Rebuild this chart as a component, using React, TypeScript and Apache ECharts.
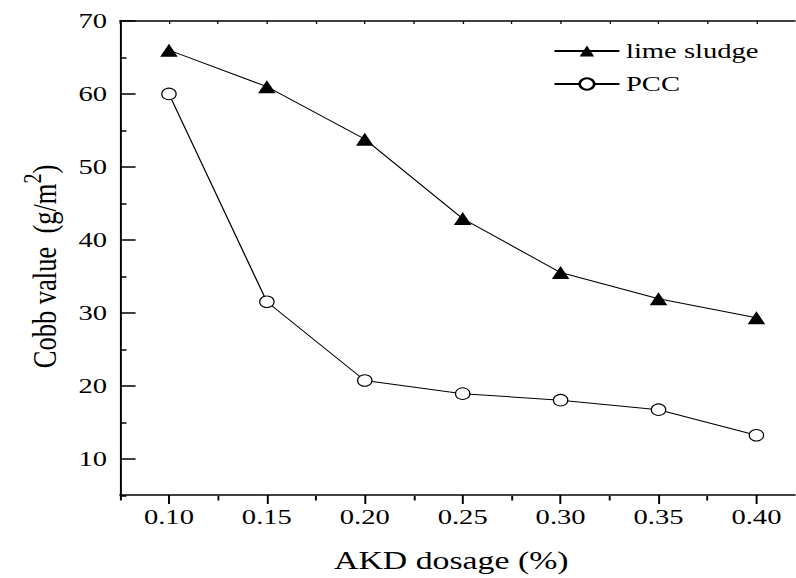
import React, { useEffect, useRef } from "react";
import * as echarts from "echarts";

const X_VALUES = [0.1, 0.15, 0.2, 0.25, 0.3, 0.35, 0.4];
const LIME_SLUDGE = [66.0, 61.0, 53.8, 42.9, 35.5, 31.9, 29.3];
const PCC = [60.0, 31.5, 20.7, 18.9, 18.0, 16.7, 13.2];
const X_TICKS = [0.1, 0.15, 0.2, 0.25, 0.3, 0.35, 0.4];
const X_MINOR = [0.075, 0.125, 0.175, 0.225, 0.275, 0.325, 0.375];
const Y_TICKS = [10, 20, 30, 40, 50, 60, 70];
const Y_MINOR = [5, 15, 25, 35, 45, 55, 65];

const S = 1.3; // horizontal stretch of the reference picture
const W = 796 / S;
const H = 578;
const FONT = "Liberation Serif";

const gridBox = { left: 92.3, right: -1.7, top: 21, bottom: 82 };

export default function App() {
  const ref = useRef<HTMLDivElement>(null);
  useEffect(() => {
    if (!ref.current) return;
    const chart = echarts.init(ref.current, undefined, { renderer: "svg" });
    const lineAx = { show: true, lineStyle: { color: "#000", width: 1.5 } };
    const option: any = {
      animation: false,
      backgroundColor: "#fff",
      textStyle: { fontFamily: FONT },
      grid: [
        { ...gridBox, containLabel: false },
        { ...gridBox, containLabel: false },
      ],
      legend: {
        orient: "vertical",
        left: 420.5,
        top: 35,
        itemWidth: 50,
        itemHeight: 14,
        itemGap: 11,
        textStyle: { fontFamily: FONT, fontSize: 22, color: "#000", lineHeight: 22 },
        data: ["lime sludge", "PCC"],
      },
      xAxis: [
        {
          type: "value",
          gridIndex: 0,
          position: "bottom",
          min: 0.075,
          max: 0.42,
          axisLine: { ...lineAx, onZero: false },
          axisTick: { show: true, inside: false, length: 9, customValues: X_TICKS, lineStyle: { color: "#000", width: 1.5 } },
          axisLabel: {
            customValues: X_TICKS,
            formatter: (v: number) => v.toFixed(2),
            fontFamily: FONT,
            fontSize: 22,
            color: "#000",
            margin: 11,
          },
          splitLine: { show: false },
          name: "AKD dosage (%)",
          nameLocation: "middle",
          nameGap: 52,
          nameTextStyle: { fontFamily: FONT, fontSize: 26, color: "#000", padding: [0, 10, 0, 0] },
        },
        {
          type: "value",
          gridIndex: 1,
          position: "bottom",
          min: 0.075,
          max: 0.42,
          axisLine: { show: false, onZero: false },
          axisTick: { show: true, inside: false, length: 4.5, customValues: X_MINOR, lineStyle: { color: "#000", width: 1.5 } },
          axisLabel: { show: false },
          splitLine: { show: false },
        },
        {
          type: "value",
          gridIndex: 0,
          position: "top",
          min: 0.075,
          max: 0.42,
          axisLine: { ...lineAx, onZero: false },
          axisTick: { show: true, inside: true, length: 3, customValues: [...X_TICKS, ...X_MINOR], lineStyle: { color: "#000", width: 1 } },
          axisLabel: { show: false },
          splitLine: { show: false },
        },
      ],
      yAxis: [
        {
          type: "value",
          gridIndex: 0,
          position: "left",
          min: 5,
          max: 70,
          axisLine: { ...lineAx, onZero: false },
          axisTick: { show: true, inside: true, length: 12, customValues: Y_TICKS, lineStyle: { color: "#000", width: 1.5 } },
          axisLabel: {
            customValues: Y_TICKS,
            fontFamily: FONT,
            fontSize: 22,
            color: "#000",
            margin: 10,
          },
          splitLine: { show: false },
          name: "{a|Cobb value  (g/m}{s|2}{a|)}",
          nameLocation: "middle",
          nameRotate: 90,
          nameGap: 38,
          nameTextStyle: {
            fontFamily: FONT,
            color: "#000",
            padding: [0, 17, 0, 0],
            rich: {
              a: { fontFamily: FONT, fontSize: 26.5, color: "#000", lineHeight: 40 },
              s: { fontFamily: FONT, fontSize: 20, color: "#000", lineHeight: 40, verticalAlign: "top" },
            },
          },
        },
        {
          type: "value",
          gridIndex: 1,
          position: "left",
          min: 5,
          max: 70,
          axisLine: { show: false, onZero: false },
          axisTick: { show: true, inside: true, length: 5, customValues: Y_MINOR, lineStyle: { color: "#000", width: 1.5 } },
          axisLabel: { show: false },
          splitLine: { show: false },
        },
      ],
      series: [
        {
          name: "lime sludge",
          type: "line",
          xAxisIndex: 0,
          yAxisIndex: 0,
          data: X_VALUES.map((x, i) => [x, LIME_SLUDGE[i]]),
          symbol: "triangle",
          symbolSize: [13.5, 13],
          showAllSymbol: true,
          lineStyle: { color: "#000", width: 1 },
          itemStyle: { color: "#000", borderColor: "#000", borderWidth: 0 },
          z: 3,
        },
        {
          name: "PCC",
          type: "line",
          xAxisIndex: 0,
          yAxisIndex: 0,
          data: X_VALUES.map((x, i) => [x, PCC[i]]),
          symbol: "circle",
          symbolSize: [11, 11.5],
          showAllSymbol: true,
          lineStyle: { color: "#000", width: 1 },
          itemStyle: { color: "#fff", borderColor: "#000", borderWidth: 1 },
          z: 3,
        },
      ],
    };
    chart.setOption(option);
    return () => chart.dispose();
  }, []);
  return (
    <div style={{ position: "absolute", left: 0, top: 0, width: 796, height: H, overflow: "hidden", background: "#fff" }}>
      <div
        ref={ref}
        style={{
          position: "absolute",
          left: 0,
          top: 0,
          width: W,
          height: H,
          transform: `scaleX(${S})`,
          transformOrigin: "0 0",
        }}
      />
    </div>
  );
}
